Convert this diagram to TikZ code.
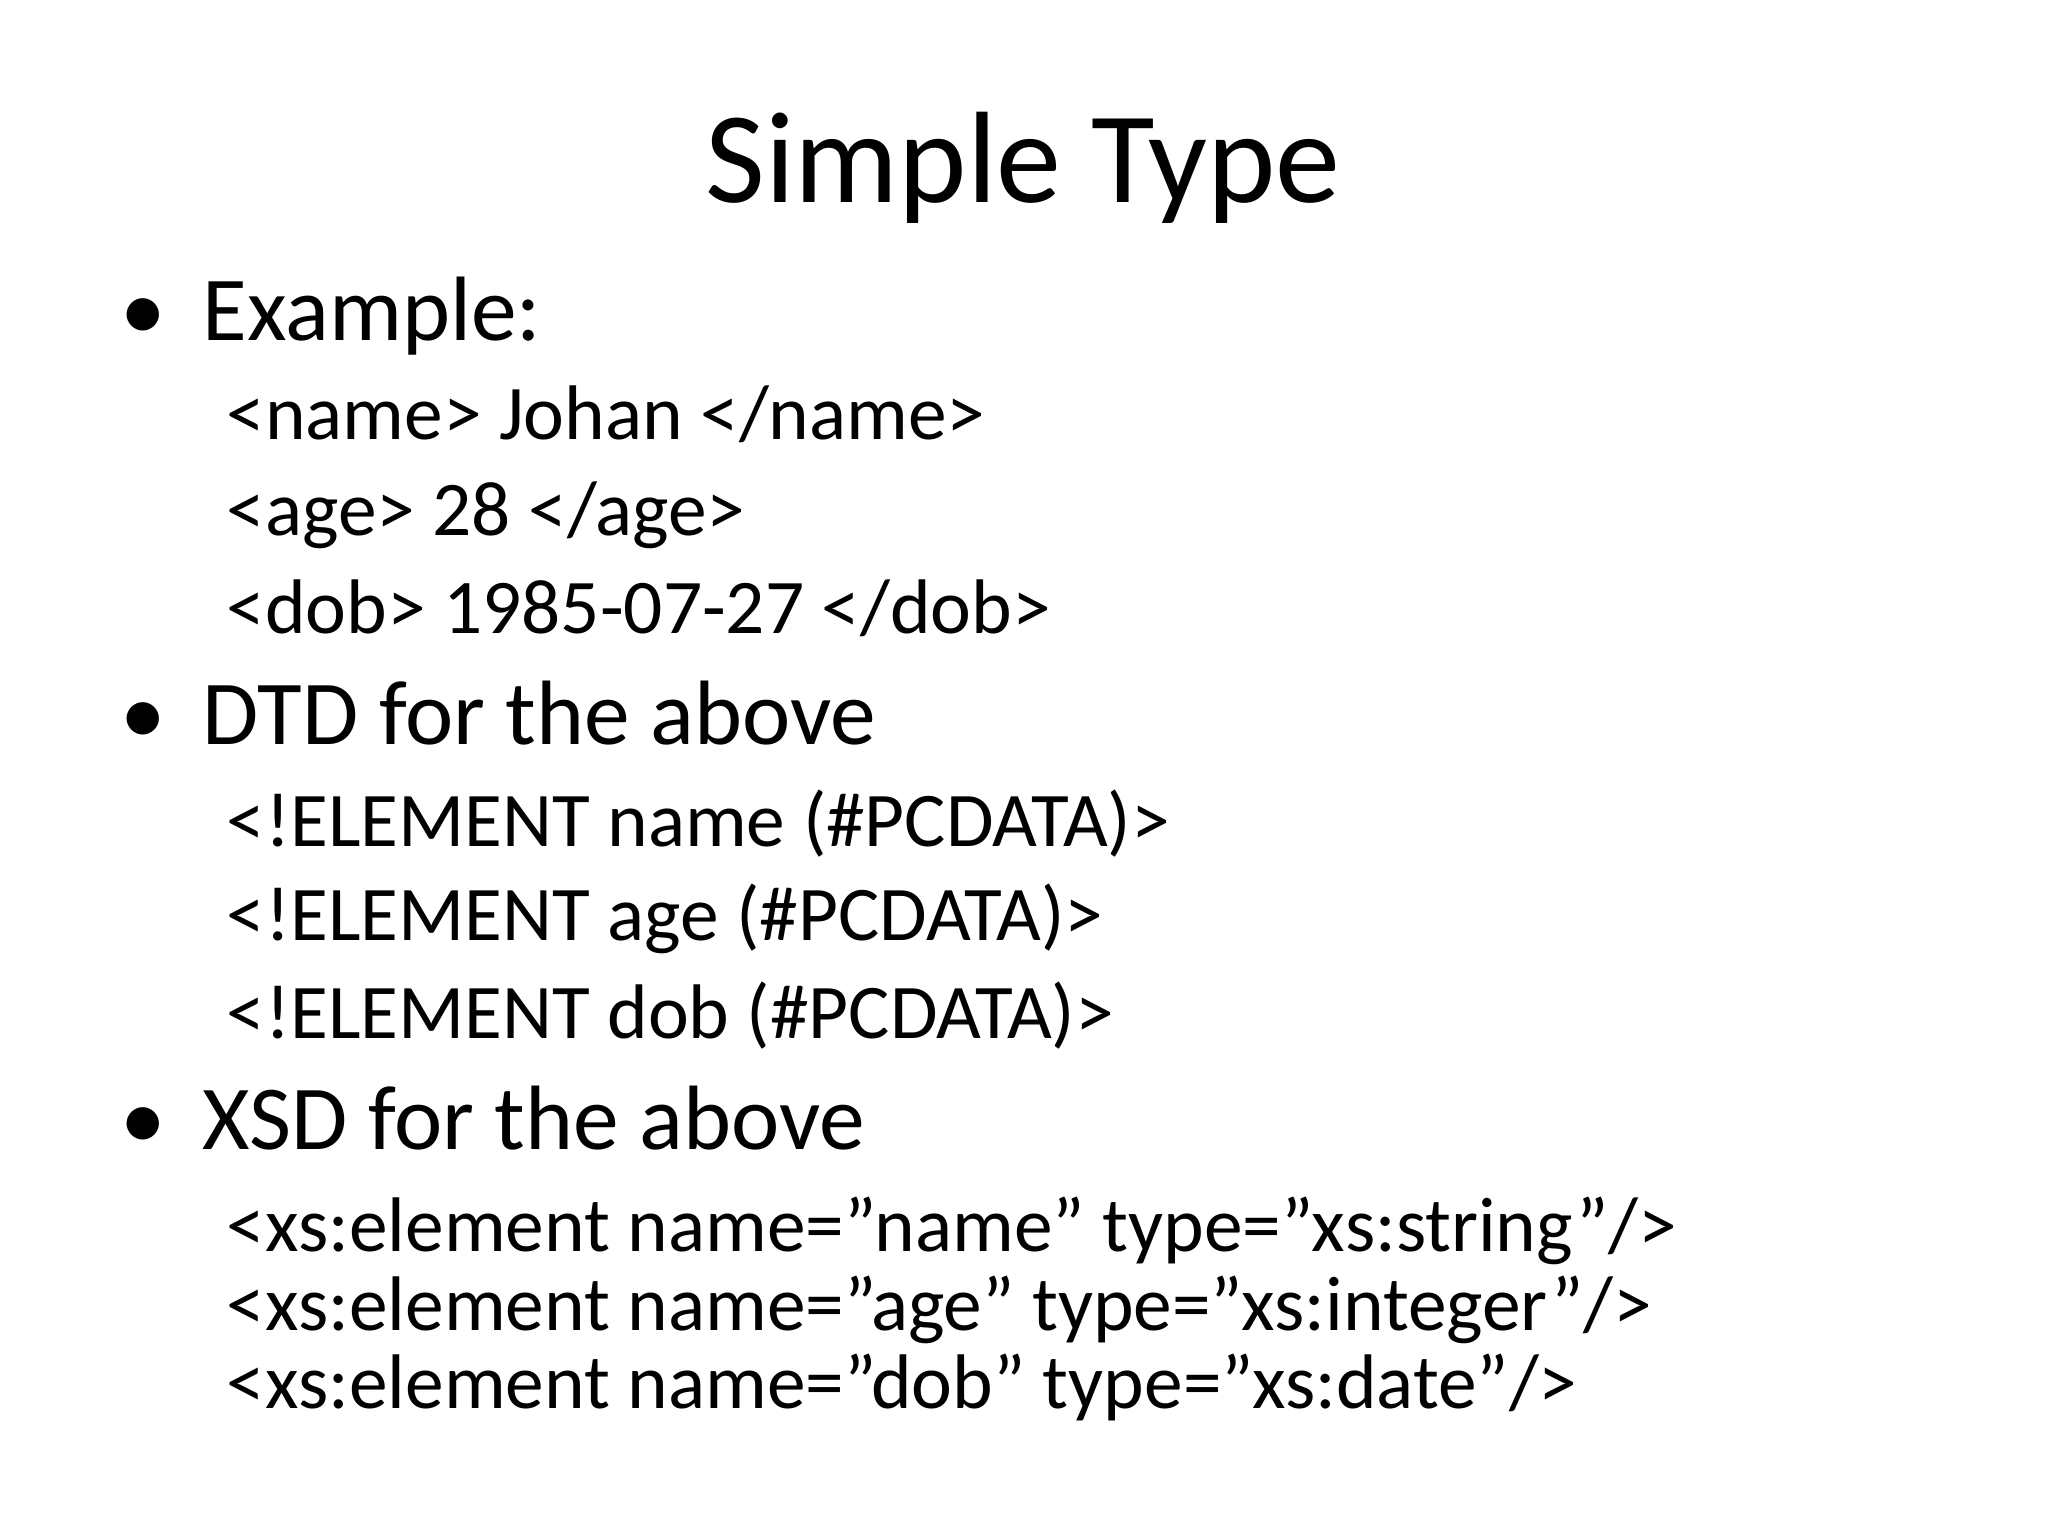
\documentclass[tikz,border=0pt]{standalone}
\usepackage{fontspec}
\setmainfont{Carlito}
\begin{document}
\begin{tikzpicture}[x=0.01cm,y=-0.01cm,
  t/.style={anchor=base west,inner sep=0pt},
  lvl1/.style={t,font=\fontsize{26}{30}\selectfont},
  lvl2/.style={t,font=\fontsize{22}{26}\selectfont}]
\useasboundingbox (0,0) rectangle (2048,1536);
\node[anchor=base,inner sep=0pt,font=\fontsize{37}{44}\selectfont] (title) at (1023,202) {Simple Type};
\foreach \y/\txt/\n in {340/Example:/a,744/DTD for the above/b,1149/XSD for the above/c}{
  \node[lvl1] (bul\n) at (120,\y) {•};
  \node[lvl1] (h\n) at (202,\y) {\txt};
}
\node[lvl2] (e1) at (226,439) {<name> Johan </name>};
\node[lvl2] (e2) at (226,535) {<age> 28 </age>};
\node[lvl2] (e3) at (226,633) {<dob> 1985-07-27 </dob>};
\node[lvl2] (d1) at (226,846) {<!ELEMENT name (\#PCDATA)>};
\node[lvl2] (d2) at (226,940) {<!ELEMENT age (\#PCDATA)>};
\node[lvl2] (d3) at (226,1038) {<!ELEMENT dob (\#PCDATA)>};
\node[lvl2] (x1) at (226,1251) {<xs:element name="name" type="xs:string"/>};
\node[lvl2] (x2) at (226,1330) {<xs:element name="age" type="xs:integer"/>};
\node[lvl2] (x3) at (226,1408) {<xs:element name="dob" type="xs:date"/>};
\end{tikzpicture}
\end{document}
